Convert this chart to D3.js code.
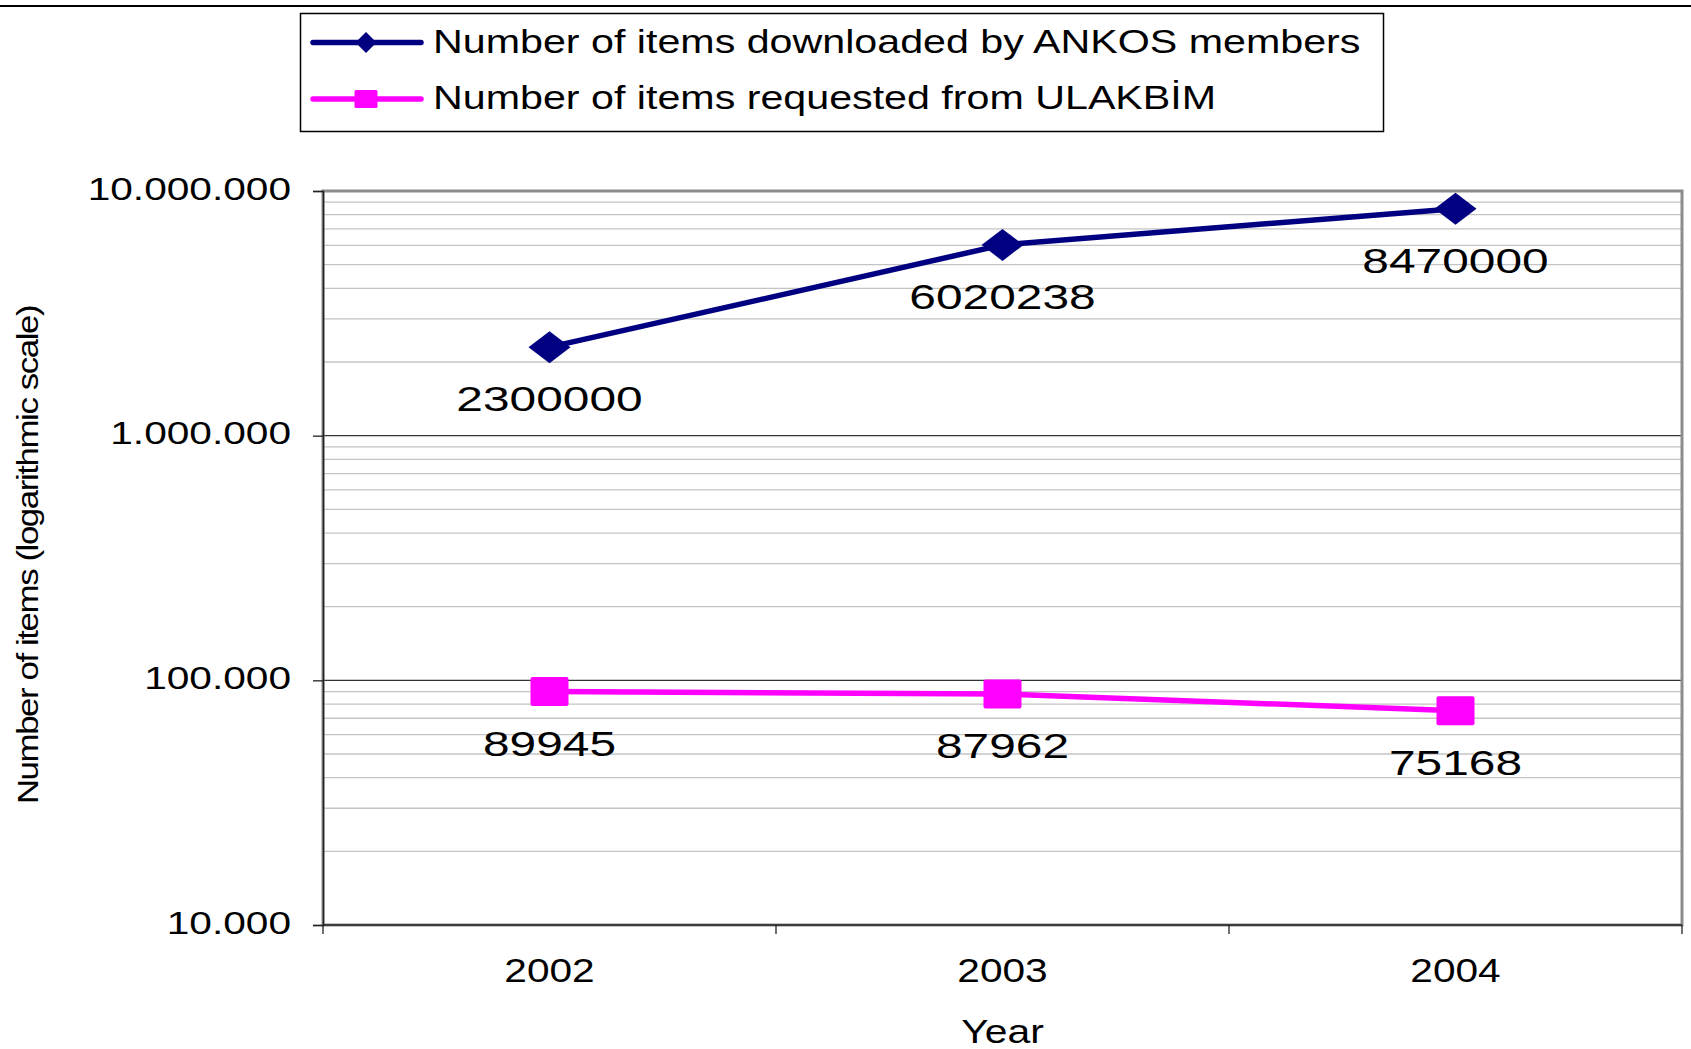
<!DOCTYPE html>
<html>
<head>
<meta charset="utf-8">
<script src="https://cdn.jsdelivr.net/npm/d3@7"></script>
<style>
  body { margin: 0; background: #fff; }
  text { font-family: "Liberation Sans", Arial, sans-serif; fill: #000; }
</style>
</head>
<body>
<svg id="chart" width="1691" height="1049"></svg>
<script>
// data
const years = ["2002", "2003", "2004"];
const downloadedAnkos = [2300000, 6020238, 8470000];
const requestedUlakbim = [89945, 87962, 75168];
const yTickValues = [10000, 100000, 1000000, 10000000];
const seriesNames = [
  "Number of items downloaded by ANKOS members",
  "Number of items requested from ULAKBİM"
];
const xTitle = "Year";
const yTitle = "Number of items (logarithmic scale)";

const W = 1691, H = 1049;
const plot = { left: 323, right: 1682, top: 191, bottom: 925 };
const NAVY = "#000080", MAGENTA = "#ff00ff";

const svg = d3.select("#chart");

const x = d3.scaleBand().domain(years).range([plot.left, plot.right]).padding(0);
const y = d3.scaleLog().domain([10000, 10000000]).range([plot.bottom, plot.top]);

// the source image is stretched sideways, so text gets a horizontal scale
const place = (px, py, sx, rot) =>
  `translate(${px},${py})${rot ? ` rotate(${rot})` : ""} scale(${sx},1)`;

const dotted = d3.formatLocale({ decimal: ",", thousands: ".", grouping: [3], currency: ["", ""] }).format(",d");

// top rule
svg.append("line")
  .attr("x1", 0).attr("x2", W).attr("y1", 6).attr("y2", 6)
  .attr("stroke", "#000").attr("stroke-width", 2);

// minor gridlines (2..9 of each decade)
const minor = y.ticks().filter((v) => !yTickValues.includes(v));
svg.append("g").selectAll("line").data(minor).join("line")
  .attr("x1", plot.left).attr("x2", plot.right)
  .attr("y1", (d) => y(d)).attr("y2", (d) => y(d))
  .attr("stroke", "#c4c4c4").attr("stroke-width", 1.3);

// major gridlines
svg.append("g").selectAll("line").data(yTickValues.slice(1, -1)).join("line")
  .attr("x1", plot.left).attr("x2", plot.right)
  .attr("y1", (d) => y(d)).attr("y2", (d) => y(d))
  .attr("stroke", "#333").attr("stroke-width", 1.3);

// plot area border
svg.append("rect")
  .attr("x", plot.left).attr("y", plot.top)
  .attr("width", plot.right - plot.left).attr("height", plot.bottom - plot.top)
  .attr("fill", "none").attr("stroke", "#8c8c8c").attr("stroke-width", 3);

// y axis
const yAxis = svg.append("g")
  .attr("transform", `translate(${plot.left},0)`)
  .call(d3.axisLeft(y).tickValues(yTickValues).tickSize(10).tickFormat(() => ""));
yAxis.select(".domain").attr("stroke", "#222").attr("stroke-width", 1.5);
yAxis.selectAll(".tick line").attr("stroke", "#222").attr("stroke-width", 1.3);

svg.append("g").selectAll("text").data(yTickValues).join("text")
  .attr("text-anchor", "end")
  .attr("font-size", 31.5)
  .attr("transform", (d) => place(291, y(d) + 8.5, 1.29))
  .text((d) => dotted(d));

// x axis, ticks on band boundaries
const bounds = years.map((d) => x(d)).concat([plot.right]);
svg.append("line")
  .attr("x1", plot.left).attr("x2", plot.right)
  .attr("y1", plot.bottom).attr("y2", plot.bottom)
  .attr("stroke", "#222").attr("stroke-width", 1.5);
svg.append("g").selectAll("line").data(bounds).join("line")
  .attr("x1", (d) => d).attr("x2", (d) => d)
  .attr("y1", plot.bottom).attr("y2", plot.bottom + 9)
  .attr("stroke", "#222").attr("stroke-width", 1.3);

svg.append("g").selectAll("text").data(years).join("text")
  .attr("text-anchor", "middle")
  .attr("font-size", 32.5)
  .attr("transform", (d) => place(x(d) + x.bandwidth() / 2, 982, 1.25))
  .text((d) => d);

// axis titles
svg.append("text")
  .attr("text-anchor", "middle")
  .attr("font-size", 33)
  .attr("transform", place((plot.left + plot.right) / 2, 1043, 1.24))
  .text(xTitle);

svg.append("text")
  .attr("text-anchor", "middle")
  .attr("font-size", 30)
  .attr("letter-spacing", -1.2)
  .attr("transform", place(38, 555, 1.16, -90))
  .text(yTitle);

// series
const cx = (i) => x(years[i]) + x.bandwidth() / 2;
const line = d3.line().x((d, i) => cx(i)).y((d) => y(d));

const series = [
  { values: downloadedAnkos, color: NAVY, marker: "diamond" },
  { values: requestedUlakbim, color: MAGENTA, marker: "square" }
];

const diamond = (w, h) => `M0,${-h / 2}L${w / 2},0L0,${h / 2}L${-w / 2},0Z`;

series.forEach((s) => {
  svg.append("path")
    .datum(s.values)
    .attr("d", line)
    .attr("fill", "none")
    .attr("stroke", s.color)
    .attr("stroke-width", 5.5)
    .attr("stroke-linejoin", "round");

  const g = svg.append("g").selectAll("g").data(s.values).join("g")
    .attr("transform", (d, i) => `translate(${cx(i)},${y(d)})`);
  if (s.marker === "diamond") {
    g.append("path").attr("d", diamond(42, 32)).attr("fill", s.color);
  } else {
    g.append("rect")
      .attr("x", -19).attr("y", -14.5).attr("width", 38).attr("height", 29)
      .attr("rx", 2).attr("fill", s.color);
  }

  svg.append("g").selectAll("text").data(s.values).join("text")
    .attr("text-anchor", "middle")
    .attr("font-size", 36)
    .attr("transform", (d, i) => place(cx(i), y(d) + 64, 1.33))
    .text((d) => d);
});

// legend
const legend = svg.append("g");
legend.append("rect")
  .attr("x", 300.5).attr("y", 13.5).attr("width", 1083).attr("height", 118)
  .attr("fill", "#fff").attr("stroke", "#000").attr("stroke-width", 1.5);

const rows = legend.selectAll("g.row").data(series).join("g")
  .attr("class", "row")
  .attr("transform", (d, i) => `translate(0,${i === 0 ? 42.5 : 99})`);
rows.append("line")
  .attr("x1", 313).attr("x2", 421).attr("y1", 0).attr("y2", 0)
  .attr("stroke", (d) => d.color).attr("stroke-width", 5.5)
  .attr("stroke-linecap", "round");
rows.filter((d) => d.marker === "diamond").append("path")
  .attr("transform", "translate(366,0)")
  .attr("d", diamond(21, 21)).attr("fill", (d) => d.color);
rows.filter((d) => d.marker === "square").append("rect")
  .attr("x", 366 - 11.5).attr("y", -9).attr("width", 23).attr("height", 18)
  .attr("rx", 1.5).attr("fill", (d) => d.color);
rows.append("text")
  .attr("font-size", 33.5)
  .attr("transform", place(433, 10, 1.23))
  .text((d, i) => seriesNames[i]);
</script>
</body>
</html>
